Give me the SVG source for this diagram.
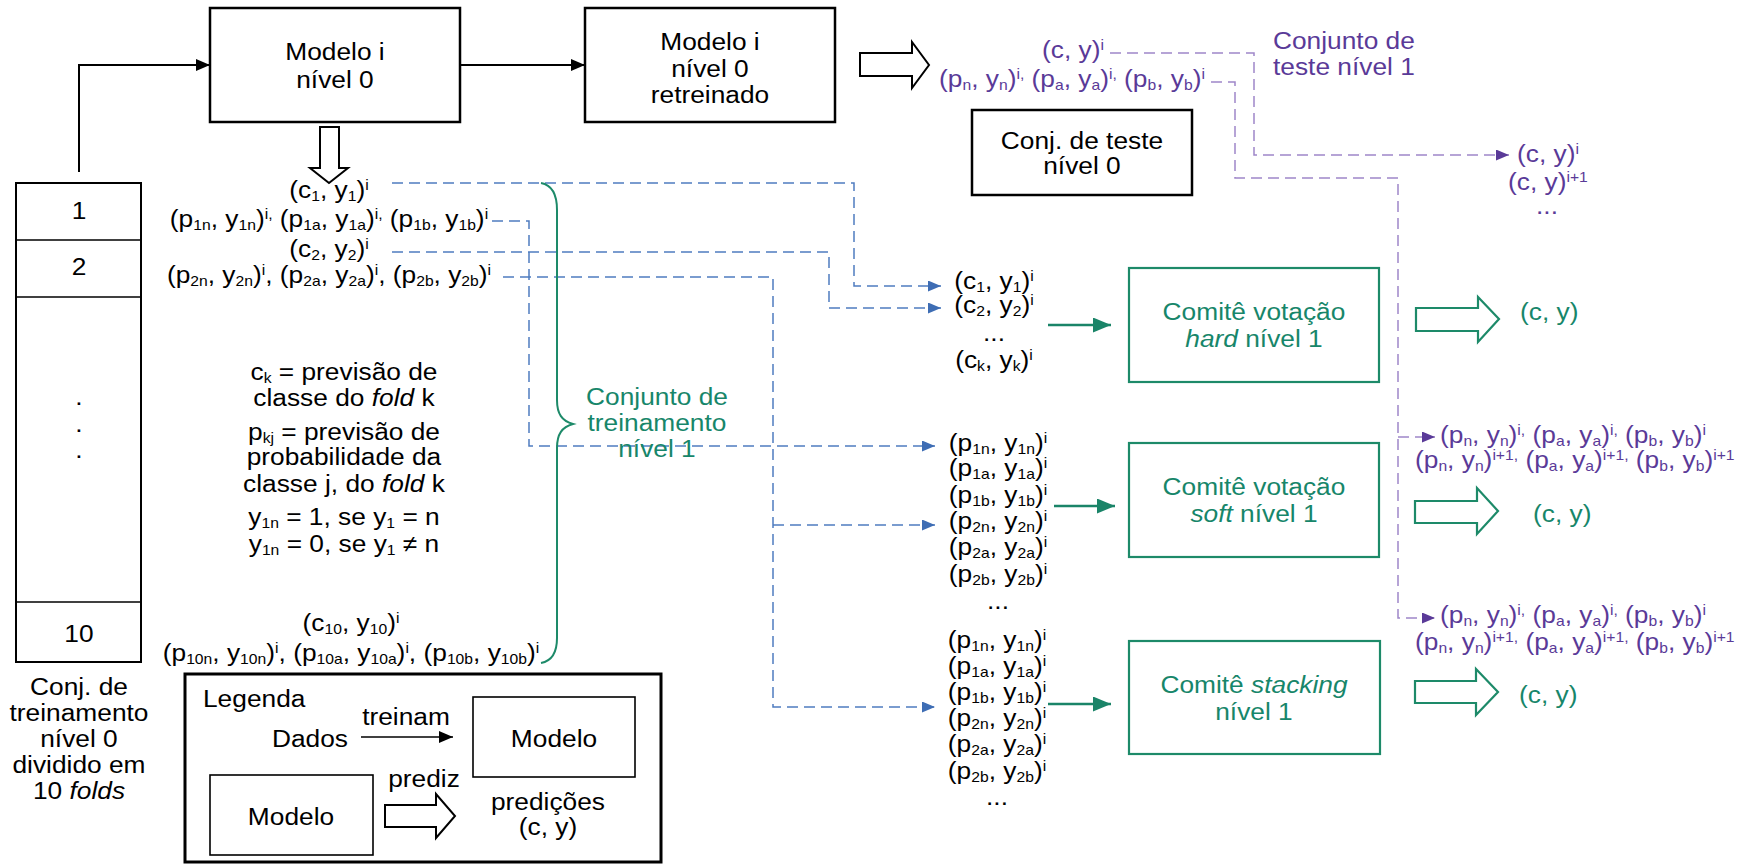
<svg xmlns="http://www.w3.org/2000/svg" width="1740" height="864" viewBox="0 0 1740 864">
<style>
  text { font-family: "Liberation Sans", Arial, sans-serif; font-size: 23.5px; fill: #000; }
  .c { text-anchor: middle; transform-box: fill-box; transform-origin: 50% 50%; transform: scaleX(1.12); }
  .l { text-anchor: start; transform-box: fill-box; transform-origin: 0% 50%; transform: scaleX(1.12); }
  .r { text-anchor: end; transform-box: fill-box; transform-origin: 100% 50%; transform: scaleX(1.12); }
  .g { fill: #17866a; }
  .p { fill: #5a3a98; }
  .sb { font-size: 14px; baseline-shift: -3px; }
  .sp { font-size: 14px; baseline-shift: 8px; }
  .it { font-style: italic; }
  .box { fill: #fff; stroke: #000; stroke-width: 2.5; }
  .col { fill: #fff; stroke: #000; stroke-width: 2; }
  .div { stroke: #000; stroke-width: 1.5; }
  .gbox { fill: #fff; stroke: #1d8a69; stroke-width: 2.2; }
  .lbox { fill: #fff; stroke: #000; stroke-width: 1.6; }
  .legend { fill: #fff; stroke: #000; stroke-width: 3; }
  .solid { fill: none; stroke: #000; stroke-width: 2; }
  .thin { fill: none; stroke: #000; stroke-width: 1.5; }
  .blue { fill: none; stroke: #4f7cc0; stroke-width: 1.5; stroke-dasharray: 11 6; }
  .purp { fill: none; stroke: #9f86c9; stroke-width: 1.5; stroke-dasharray: 11 6; }
  .gline { fill: none; stroke: #1a8468; stroke-width: 2.5; }
  .hollow { fill: #fff; stroke: #000; stroke-width: 2; stroke-linejoin: miter; }
  .ghollow { fill: #fff; stroke: #1d8a69; stroke-width: 2.2; stroke-linejoin: miter; }
  .brace { fill: none; stroke: #1d8a69; stroke-width: 2; }
</style>
<defs>
  <marker id="ah-black" markerUnits="userSpaceOnUse" markerWidth="14" markerHeight="12" refX="14" refY="6" orient="auto">
    <path d="M0,0 L14,6 L0,12 z" fill="#000"/>
  </marker>
  <marker id="ah-blue" markerUnits="userSpaceOnUse" markerWidth="13" markerHeight="11" refX="13" refY="5.5" orient="auto">
    <path d="M0,0 L13,5.5 L0,11 z" fill="#3e6db4"/>
  </marker>
  <marker id="ah-green" markerUnits="userSpaceOnUse" markerWidth="18" markerHeight="15" refX="18" refY="7.5" orient="auto">
    <path d="M0,0 L18,7.5 L0,15 z" fill="#1a8468"/>
  </marker>
  <marker id="ah-purple" markerUnits="userSpaceOnUse" markerWidth="13" markerHeight="11" refX="13" refY="5.5" orient="auto">
    <path d="M0,0 L13,5.5 L0,11 z" fill="#5a3a98"/>
  </marker>
</defs>

<!-- connectors: solid, dashed and block arrows -->
<g id="connectors">
  <path class="solid" d="M79,172 V65 H210" marker-end="url(#ah-black)"/>
  <path class="solid" d="M460,65 H585" marker-end="url(#ah-black)"/>
  <polygon class="hollow" points="860,53 912,53 912,42 929,65 912,88 912,76 860,76"/>
  <polygon class="hollow" points="320,127 339,127 339,168 348,168 329,183 310,168 320,168"/>

  <path class="blue" d="M392,183 H854 V286 H941" marker-end="url(#ah-blue)"/>
  <path class="blue" d="M392,252 H829 V308 H941" marker-end="url(#ah-blue)"/>
  <path class="blue" d="M492,221 H529 V446 H935" marker-end="url(#ah-blue)"/>
  <path class="blue" d="M503,277 H773 V707 H935" marker-end="url(#ah-blue)"/>
  <path class="blue" d="M773,525 H935" marker-end="url(#ah-blue)"/>

  <path class="gline" d="M1048,325 H1111" marker-end="url(#ah-green)"/>
  <path class="gline" d="M1054,506 H1115" marker-end="url(#ah-green)"/>
  <path class="gline" d="M1048,704 H1111" marker-end="url(#ah-green)"/>

  <polygon class="ghollow" points="1416,308 1478,308 1478,297 1499,319 1478,342 1478,331 1416,331"/>
  <polygon class="ghollow" points="1415,501 1477,501 1477,488 1498,511 1477,534 1477,523 1415,523"/>
  <polygon class="ghollow" points="1415,681 1476,681 1476,669 1498,692 1476,715 1476,703 1415,703"/>

  <path class="purp" d="M1110,53 H1254 V155 H1509" marker-end="url(#ah-purple)"/>
  <path class="purp" d="M1211,82 H1235 V178 H1398 V618 H1435" marker-end="url(#ah-purple)"/>
  <path class="purp" d="M1398,437 H1435" marker-end="url(#ah-purple)"/>
</g>

<!-- training folds column -->
<g id="folds">
  <rect class="col" x="16" y="183" width="125" height="479"/>
  <line class="div" x1="16" y1="240" x2="141" y2="240"/>
  <line class="div" x1="16" y1="297" x2="141" y2="297"/>
  <line class="div" x1="16" y1="602" x2="141" y2="602"/>
  <text class="c" x="79" y="219">1</text>
  <text class="c" x="79" y="275">2</text>
  <text class="c" x="79" y="405">.</text>
  <text class="c" x="79" y="432">.</text>
  <text class="c" x="79" y="458">.</text>
  <text class="c" x="79" y="642">10</text>
</g>
<g id="folds-caption">
  <text class="c" x="79" y="695">Conj. de</text>
  <text class="c" x="79" y="721">treinamento</text>
  <text class="c" x="79" y="747">nível 0</text>
  <text class="c" x="79" y="773">dividido em</text>
  <text class="c" x="79" y="799">10 <tspan class="it">folds</tspan></text>
</g>

<g id="model-level0">
  <rect class="box" x="210" y="8" width="250" height="114"/>
  <text class="c" x="335" y="60">Modelo i</text>
  <text class="c" x="335" y="88">nível 0</text>
</g>

<g id="model-retrained">
  <rect class="box" x="585" y="8" width="250" height="114"/>
  <text class="c" x="710" y="50">Modelo i</text>
  <text class="c" x="710" y="77">nível 0</text>
  <text class="c" x="710" y="103">retreinado</text>
</g>

<g id="test-set-level0">
  <rect class="box" x="972" y="110" width="220" height="85"/>
  <text class="c" x="1082" y="149">Conj. de teste</text>
  <text class="c" x="1082" y="174">nível 0</text>
</g>

<g id="test-set-level1">
  <text class="c p" x="1073" y="58">(c, y)<tspan class="sp">i</tspan></text>
  <text class="c p" x="1072" y="87">(p<tspan class="sb">n</tspan>, y<tspan class="sb">n</tspan>)<tspan class="sp">i,</tspan> (p<tspan class="sb">a</tspan>, y<tspan class="sb">a</tspan>)<tspan class="sp">i,</tspan> (p<tspan class="sb">b</tspan>, y<tspan class="sb">b</tspan>)<tspan class="sp">i</tspan></text>
  <text class="l p" x="1273" y="49">Conjunto de</text>
  <text class="l p" x="1273" y="75">teste nível 1</text>
</g>

<g id="hard-test-out">
  <text class="l p" x="1517" y="162">(c, y)<tspan class="sp">i</tspan></text>
  <text class="l p" x="1508" y="190">(c, y)<tspan class="sp">i+1</tspan></text>
  <text class="c p" x="1547" y="214">...</text>
</g>

<g id="fold-predictions">
  <text class="c" x="329" y="198">(c<tspan class="sb">1</tspan>, y<tspan class="sb">1</tspan>)<tspan class="sp">i</tspan></text>
  <text class="c" x="329" y="227">(p<tspan class="sb">1n</tspan>, y<tspan class="sb">1n</tspan>)<tspan class="sp">i,</tspan> (p<tspan class="sb">1a</tspan>, y<tspan class="sb">1a</tspan>)<tspan class="sp">i,</tspan> (p<tspan class="sb">1b</tspan>, y<tspan class="sb">1b</tspan>)<tspan class="sp">i</tspan></text>
  <text class="c" x="329" y="257">(c<tspan class="sb">2</tspan>, y<tspan class="sb">2</tspan>)<tspan class="sp">i</tspan></text>
  <text class="c" x="329" y="283">(p<tspan class="sb">2n</tspan>, y<tspan class="sb">2n</tspan>)<tspan class="sp">i</tspan>, (p<tspan class="sb">2a</tspan>, y<tspan class="sb">2a</tspan>)<tspan class="sp">i</tspan>, (p<tspan class="sb">2b</tspan>, y<tspan class="sb">2b</tspan>)<tspan class="sp">i</tspan></text>
  <text class="c" x="351" y="631">(c<tspan class="sb">10</tspan>, y<tspan class="sb">10</tspan>)<tspan class="sp">i</tspan></text>
  <text class="c" x="351" y="661">(p<tspan class="sb">10n</tspan>, y<tspan class="sb">10n</tspan>)<tspan class="sp">i</tspan>, (p<tspan class="sb">10a</tspan>, y<tspan class="sb">10a</tspan>)<tspan class="sp">i</tspan>, (p<tspan class="sb">10b</tspan>, y<tspan class="sb">10b</tspan>)<tspan class="sp">i</tspan></text>
</g>

<g id="notation">
  <text class="c" x="344" y="380">c<tspan class="sb">k</tspan> = previsão de</text>
  <text class="c" x="344" y="406">classe do <tspan class="it">fold</tspan> k</text>
  <text class="c" x="344" y="440">p<tspan class="sb">kj</tspan> = previsão de</text>
  <text class="c" x="344" y="465">probabilidade da</text>
  <text class="c" x="344" y="492">classe j, do <tspan class="it">fold</tspan> k</text>
  <text class="c" x="344" y="525">y<tspan class="sb">1n</tspan> = 1, se y<tspan class="sb">1</tspan> = n</text>
  <text class="c" x="344" y="552">y<tspan class="sb">1n</tspan> = 0, se y<tspan class="sb">1</tspan> ≠ n</text>
</g>

<g id="brace-training-set">
  <path class="brace" d="M541,183 C552,185 557,194 557,210 L557,400 C557,414 562,421 573,424 C562,427 557,434 557,448 L557,638 C557,653 552,661 541,663"/>
  <text class="c g" x="657" y="405">Conjunto de</text>
  <text class="c g" x="657" y="431">treinamento</text>
  <text class="c g" x="657" y="457">nível 1</text>
</g>

<g id="hard-inputs">
  <text class="c" x="994" y="289">(c<tspan class="sb">1</tspan>, y<tspan class="sb">1</tspan>)<tspan class="sp">i</tspan></text>
  <text class="c" x="994" y="313">(c<tspan class="sb">2</tspan>, y<tspan class="sb">2</tspan>)<tspan class="sp">i</tspan></text>
  <text class="c" x="994" y="341">...</text>
  <text class="c" x="994" y="368">(c<tspan class="sb">k</tspan>, y<tspan class="sb">k</tspan>)<tspan class="sp">i</tspan></text>
</g>

<g id="soft-inputs">
  <text class="c" x="998" y="451">(p<tspan class="sb">1n</tspan>, y<tspan class="sb">1n</tspan>)<tspan class="sp">i</tspan></text>
  <text class="c" x="998" y="476">(p<tspan class="sb">1a</tspan>, y<tspan class="sb">1a</tspan>)<tspan class="sp">i</tspan></text>
  <text class="c" x="998" y="503">(p<tspan class="sb">1b</tspan>, y<tspan class="sb">1b</tspan>)<tspan class="sp">i</tspan></text>
  <text class="c" x="998" y="529">(p<tspan class="sb">2n</tspan>, y<tspan class="sb">2n</tspan>)<tspan class="sp">i</tspan></text>
  <text class="c" x="998" y="555">(p<tspan class="sb">2a</tspan>, y<tspan class="sb">2a</tspan>)<tspan class="sp">i</tspan></text>
  <text class="c" x="998" y="582">(p<tspan class="sb">2b</tspan>, y<tspan class="sb">2b</tspan>)<tspan class="sp">i</tspan></text>
  <text class="c" x="998" y="609">...</text>
</g>

<g id="stacking-inputs">
  <text class="c" x="997" y="648">(p<tspan class="sb">1n</tspan>, y<tspan class="sb">1n</tspan>)<tspan class="sp">i</tspan></text>
  <text class="c" x="997" y="674">(p<tspan class="sb">1a</tspan>, y<tspan class="sb">1a</tspan>)<tspan class="sp">i</tspan></text>
  <text class="c" x="997" y="700">(p<tspan class="sb">1b</tspan>, y<tspan class="sb">1b</tspan>)<tspan class="sp">i</tspan></text>
  <text class="c" x="997" y="726">(p<tspan class="sb">2n</tspan>, y<tspan class="sb">2n</tspan>)<tspan class="sp">i</tspan></text>
  <text class="c" x="997" y="752">(p<tspan class="sb">2a</tspan>, y<tspan class="sb">2a</tspan>)<tspan class="sp">i</tspan></text>
  <text class="c" x="997" y="779">(p<tspan class="sb">2b</tspan>, y<tspan class="sb">2b</tspan>)<tspan class="sp">i</tspan></text>
  <text class="c" x="997" y="805">...</text>
</g>

<g id="hard-committee">
  <rect class="gbox" x="1129" y="268" width="250" height="114"/>
  <text class="c g" x="1254" y="320">Comitê votação</text>
  <text class="c g" x="1254" y="347"><tspan class="it">hard</tspan> nível 1</text>
</g>

<g id="soft-committee">
  <rect class="gbox" x="1129" y="443" width="250" height="114"/>
  <text class="c g" x="1254" y="495">Comitê votação</text>
  <text class="c g" x="1254" y="522"><tspan class="it">soft</tspan> nível 1</text>
</g>

<g id="stacking-committee">
  <rect class="gbox" x="1129" y="641" width="251" height="113"/>
  <text class="c g" x="1254" y="693">Comitê <tspan class="it">stacking</tspan></text>
  <text class="c g" x="1254" y="720">nível 1</text>
</g>

<g id="outputs">
  <text class="l g" x="1520" y="320">(c, y)</text>
  <text class="l g" x="1533" y="522">(c, y)</text>
  <text class="l g" x="1519" y="703">(c, y)</text>
</g>

<g id="soft-test-inputs">
  <text class="l p" x="1440" y="443">(p<tspan class="sb">n</tspan>, y<tspan class="sb">n</tspan>)<tspan class="sp">i,</tspan> (p<tspan class="sb">a</tspan>, y<tspan class="sb">a</tspan>)<tspan class="sp">i,</tspan> (p<tspan class="sb">b</tspan>, y<tspan class="sb">b</tspan>)<tspan class="sp">i</tspan></text>
  <text class="l p" x="1415" y="468">(p<tspan class="sb">n</tspan>, y<tspan class="sb">n</tspan>)<tspan class="sp">i+1,</tspan> (p<tspan class="sb">a</tspan>, y<tspan class="sb">a</tspan>)<tspan class="sp">i+1,</tspan> (p<tspan class="sb">b</tspan>, y<tspan class="sb">b</tspan>)<tspan class="sp">i+1</tspan></text>
</g>

<g id="stacking-test-inputs">
  <text class="l p" x="1440" y="623">(p<tspan class="sb">n</tspan>, y<tspan class="sb">n</tspan>)<tspan class="sp">i,</tspan> (p<tspan class="sb">a</tspan>, y<tspan class="sb">a</tspan>)<tspan class="sp">i,</tspan> (p<tspan class="sb">b</tspan>, y<tspan class="sb">b</tspan>)<tspan class="sp">i</tspan></text>
  <text class="l p" x="1415" y="650">(p<tspan class="sb">n</tspan>, y<tspan class="sb">n</tspan>)<tspan class="sp">i+1,</tspan> (p<tspan class="sb">a</tspan>, y<tspan class="sb">a</tspan>)<tspan class="sp">i+1,</tspan> (p<tspan class="sb">b</tspan>, y<tspan class="sb">b</tspan>)<tspan class="sp">i+1</tspan></text>
</g>

<g id="legend">
  <rect class="legend" x="185" y="674" width="476" height="188"/>
  <text class="l" x="203" y="707">Legenda</text>
  <text class="c" x="406" y="725">treinam</text>
  <text class="r" x="348" y="747">Dados</text>
  <path class="thin" d="M361,737 H453" marker-end="url(#ah-black)"/>
  <rect class="lbox" x="473" y="697" width="162" height="80"/>
  <text class="c" x="554" y="747">Modelo</text>
  <text class="c" x="424" y="787">prediz</text>
  <rect class="lbox" x="210" y="775" width="163" height="80"/>
  <text class="c" x="291" y="825">Modelo</text>
  <polygon class="hollow" points="385,805 436,805 436,794 455,816 436,838 436,827 385,827"/>
  <text class="c" x="548" y="810">predições</text>
  <text class="c" x="548" y="835">(c, y)</text>
</g>
</svg>
